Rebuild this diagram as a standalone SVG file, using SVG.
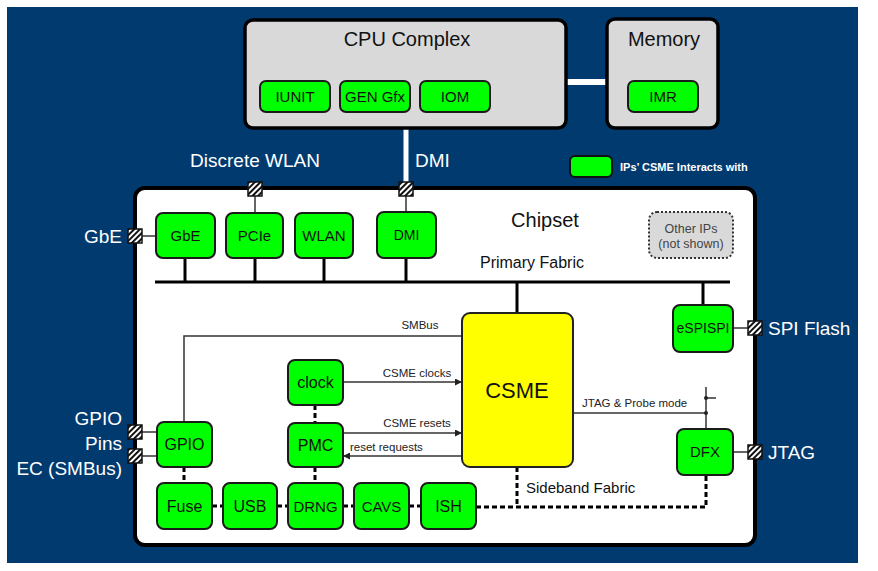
<svg xmlns="http://www.w3.org/2000/svg" width="878" height="571" viewBox="0 0 878 571">
<defs>
<pattern id="hatch" patternUnits="userSpaceOnUse" width="4" height="4" patternTransform="rotate(45)">
<rect width="4" height="4" fill="#fff"/>
<rect width="2" height="4" fill="#111"/>
</pattern>
<marker id="arr" viewBox="0 0 10 10" refX="10" refY="5" markerWidth="7" markerHeight="7" markerUnits="userSpaceOnUse" orient="auto">
<path d="M0,0 L10,5 L0,10 z" fill="#222"/>
</marker>
<style>
text{font-family:"Liberation Sans",Arial,sans-serif;}
.ip rect{fill:#00FF00;stroke:#1a1a1a;stroke-width:2;}
.ip text{font-size:15px;text-anchor:middle;fill:#111;}
.gray{fill:#D9D9D9;stroke:#000;stroke-width:3.5;}
.wt{fill:#fff;font-size:19px;}
.pad{fill:url(#hatch);stroke:#111;stroke-width:1.5;}
.thin{stroke:#333;stroke-width:1.5;fill:none;}
.bus{stroke:#000;stroke-width:3;fill:none;}
.dash{stroke:#000;stroke-width:3;fill:none;stroke-dasharray:5 3;}
.lbl{font-size:11.5px;fill:#222;}
</style>
</defs>
<rect x="7" y="7" width="851" height="556" fill="#013A6F"/>

<g id="chipset">
<rect x="135" y="188" width="620" height="357" rx="10" fill="#fff" stroke="#000" stroke-width="4"/>
<text x="545" y="227" font-size="20" text-anchor="middle" fill="#111">Chipset</text>
<text x="532" y="268" font-size="16" text-anchor="middle" fill="#111">Primary Fabric</text>
<text x="526" y="493" font-size="15" fill="#111">Sideband Fabric</text>
</g>

<g id="connectors">
<line x1="566" y1="82" x2="607" y2="82" stroke="#fff" stroke-width="6"/>
<line x1="406" y1="128" x2="406" y2="186" stroke="#fff" stroke-width="5"/>
<line class="thin" x1="406" y1="196" x2="406" y2="212"/>
<line class="thin" x1="255" y1="196" x2="255" y2="213"/>
<line class="bus" x1="155" y1="282" x2="730" y2="282" stroke-width="4"/>
<line class="bus" x1="185" y1="258" x2="185" y2="282"/>
<line class="bus" x1="255" y1="258" x2="255" y2="282"/>
<line class="bus" x1="324" y1="258" x2="324" y2="282"/>
<line class="bus" x1="406" y1="258" x2="406" y2="282"/>
<line class="bus" x1="517" y1="282" x2="517" y2="313"/>
<line class="bus" x1="703" y1="282" x2="703" y2="305"/>
<polyline class="thin" points="184,422 184,336 462,336"/>
<line class="thin" x1="343" y1="382" x2="462" y2="382" marker-end="url(#arr)"/>
<line class="thin" x1="343" y1="433" x2="462" y2="433" marker-end="url(#arr)"/>
<line class="thin" x1="462" y1="456" x2="343" y2="456" marker-end="url(#arr)"/>
<line class="thin" x1="573" y1="413" x2="706" y2="413"/>
<line class="thin" x1="706" y1="387" x2="706" y2="429"/>
<line class="thin" x1="706" y1="398" x2="716" y2="398"/>
<circle cx="706" cy="398" r="2" fill="#222"/>
<circle cx="706" cy="413" r="2" fill="#222"/>
<line class="thin" x1="733" y1="328" x2="748" y2="328"/>
<line class="thin" x1="733" y1="452" x2="748" y2="452"/>
<line class="thin" x1="142" y1="236" x2="156" y2="236"/>
<line class="thin" x1="142" y1="432" x2="157" y2="432"/>
<line class="thin" x1="142" y1="456" x2="157" y2="456"/>
<line class="dash" x1="184" y1="467" x2="184" y2="483"/>
<line class="dash" x1="315" y1="405" x2="315" y2="423"/>
<line class="dash" x1="315" y1="467" x2="315" y2="483"/>
<line class="dash" x1="212" y1="506" x2="223" y2="506"/>
<line class="dash" x1="277" y1="506" x2="288" y2="506"/>
<line class="dash" x1="343" y1="506" x2="354" y2="506"/>
<line class="dash" x1="409" y1="506" x2="421" y2="506"/>
<polyline class="dash" points="476,507 706,507 706,475"/>
<line class="dash" x1="517" y1="467" x2="517" y2="507"/>
<text class="lbl" x="420" y="329" text-anchor="middle">SMBus</text>
<text class="lbl" x="417" y="377" text-anchor="middle">CSME clocks</text>
<text class="lbl" x="417" y="427" text-anchor="middle">CSME resets</text>
<text class="lbl" x="350" y="451">reset requests</text>
<text class="lbl" x="582" y="407">JTAG &amp; Probe mode</text>
</g>

<g id="cpu-complex">
<rect class="gray" x="245" y="20" width="321" height="108" rx="8"/>
<text x="407" y="46" font-size="20" text-anchor="middle" fill="#111">CPU Complex</text>
</g>
<g id="iunit" class="ip"><rect x="260" y="81" width="70" height="31" rx="6"/><text x="295" y="102">IUNIT</text></g>
<g id="gengfx" class="ip"><rect x="340" y="81" width="70" height="31" rx="6"/><text x="375" y="102">GEN Gfx</text></g>
<g id="iom" class="ip"><rect x="420" y="81" width="70" height="31" rx="6"/><text x="455" y="102">IOM</text></g>

<g id="memory">
<rect class="gray" x="607" y="19" width="111" height="109" rx="8"/>
<text x="664" y="46" font-size="20" text-anchor="middle" fill="#111">Memory</text>
</g>
<g id="imr" class="ip"><rect x="628" y="81" width="70" height="31" rx="6"/><text x="663" y="102">IMR</text></g>

<g id="legend">
<rect x="570" y="156" width="42" height="21" rx="5" fill="#00FF00" stroke="#111" stroke-width="2"/>
<text x="620" y="171" font-size="11" font-weight="bold" fill="#fff">IPs’ CSME Interacts with</text>
</g>

<g id="labels-outside">
<text class="wt" x="255" y="167" text-anchor="middle" font-size="20">Discrete WLAN</text>
<text class="wt" x="415" y="167" font-size="20">DMI</text>
<text class="wt" x="122" y="243" text-anchor="end">GbE</text>
<text class="wt" x="122" y="425" text-anchor="end">GPIO</text>
<text class="wt" x="122" y="450" text-anchor="end">Pins</text>
<text class="wt" x="122" y="475" text-anchor="end">EC (SMBus)</text>
<text class="wt" x="768" y="335">SPI Flash</text>
<text class="wt" x="768" y="459">JTAG</text>
</g>

<g id="pads">
<rect class="pad" x="399" y="182" width="14" height="14"/>
<rect class="pad" x="248" y="182" width="14" height="14"/>
<rect class="pad" x="128" y="229" width="14" height="14"/>
<rect class="pad" x="128" y="425" width="14" height="14"/>
<rect class="pad" x="128" y="449" width="14" height="14"/>
<rect class="pad" x="748" y="321" width="14" height="14"/>
<rect class="pad" x="748" y="445" width="14" height="14"/>
</g>

<g id="gbe" class="ip"><rect x="156" y="213" width="59" height="45" rx="7"/><text x="185.5" y="241">GbE</text></g>
<g id="pcie" class="ip"><rect x="226" y="213" width="57" height="45" rx="7"/><text x="254.5" y="241">PCIe</text></g>
<g id="wlan" class="ip"><rect x="295" y="213" width="58" height="45" rx="7"/><text x="324" y="241">WLAN</text></g>
<g id="dmi" class="ip"><rect x="377" y="212" width="59" height="46" rx="7"/><text x="406.5" y="240" style="font-size:14px">DMI</text></g>

<g id="other-ips">
<rect x="649" y="212" width="84" height="46" rx="8" fill="#D9D9D9" stroke="#333" stroke-width="2" stroke-dasharray="2 2"/>
<text x="691" y="233" font-size="12.5" text-anchor="middle" fill="#444">Other IPs</text>
<text x="691" y="248" font-size="12.5" text-anchor="middle" fill="#444">(not shown)</text>
</g>

<g id="espi" class="ip"><rect x="673" y="305" width="60" height="47" rx="7"/><text x="703" y="333" style="font-size:14px">eSPISPI</text></g>
<g id="dfx" class="ip"><rect x="677" y="429" width="56" height="46" rx="7"/><text x="705" y="457">DFX</text></g>

<g id="csme">
<rect x="462" y="313" width="111" height="154" rx="8" fill="#FFFF00" stroke="#222" stroke-width="2"/>
<text x="517" y="398" font-size="22" text-anchor="middle" fill="#111">CSME</text>
</g>

<g id="clock" class="ip"><rect x="288" y="360" width="55" height="45" rx="7"/><text x="315.5" y="388" style="font-size:16px">clock</text></g>
<g id="pmc" class="ip"><rect x="288" y="423" width="55" height="44" rx="7"/><text x="315.5" y="451" style="font-size:16px">PMC</text></g>
<g id="gpio" class="ip"><rect x="157" y="422" width="55" height="45" rx="7"/><text x="184.5" y="450" style="font-size:16px">GPIO</text></g>
<g id="fuse" class="ip"><rect x="157" y="483" width="55" height="46" rx="7"/><text x="184.5" y="512" style="font-size:16px">Fuse</text></g>
<g id="usb" class="ip"><rect x="223" y="483" width="54" height="46" rx="7"/><text x="250" y="512" style="font-size:16px">USB</text></g>
<g id="drng" class="ip"><rect x="288" y="483" width="55" height="46" rx="7"/><text x="315.5" y="512" style="font-size:15px">DRNG</text></g>
<g id="cavs" class="ip"><rect x="354" y="483" width="55" height="46" rx="7"/><text x="381.5" y="512" style="font-size:15px">CAVS</text></g>
<g id="ish" class="ip"><rect x="421" y="483" width="55" height="46" rx="7"/><text x="448.5" y="512" style="font-size:16px">ISH</text></g>
</svg>
